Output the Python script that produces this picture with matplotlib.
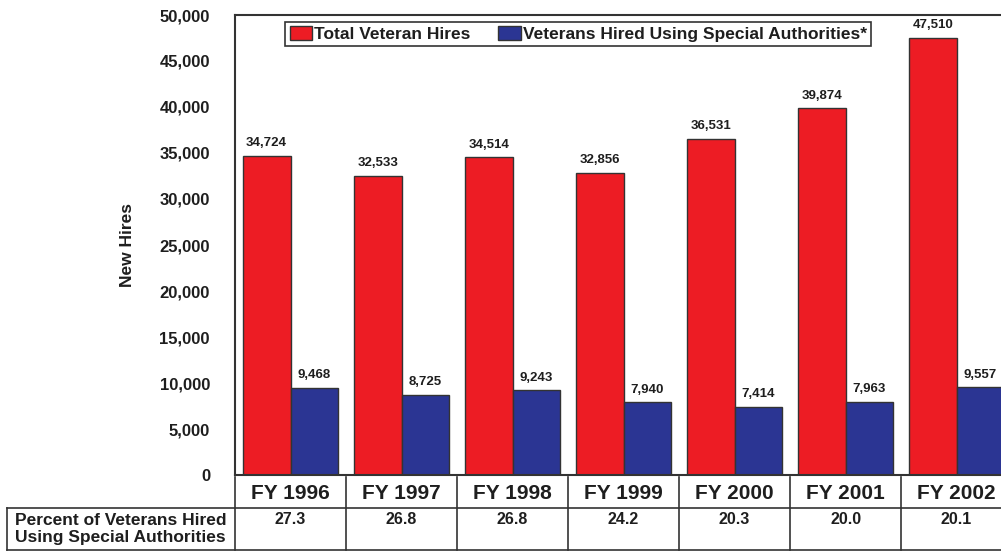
import matplotlib.pyplot as plt
import numpy as np

plt.rcParams['font.family'] = ['Liberation Sans', 'DejaVu Sans']
plt.rcParams['font.weight'] = 'bold'

# ---------- data ----------
years = ["FY 1996", "FY 1997", "FY 1998", "FY 1999", "FY 2000", "FY 2001", "FY 2002"]
total_hires = [34724, 32533, 34514, 32856, 36531, 39874, 47510]
special_hires = [9468, 8725, 9243, 7940, 7414, 7963, 9557]
percent_special = ["27.3", "26.8", "26.8", "24.2", "20.3", "20.0", "20.1"]

RED = "#ED1C24"
BLUE = "#2B3593"
LINE = "#333333"
TXT = "#1e1e1e"

W, H = 1001, 552
fig = plt.figure(figsize=(W / 100, H / 100), dpi=100)

left = 235 / W
bottom = (H - 475) / H
top = (H - 15) / H
ax = fig.add_axes([left, bottom, 1 - left, top - bottom])

x = np.arange(len(years))
bw = 0.43
ax.bar(x - bw / 2, total_hires, bw, color=RED, edgecolor=LINE, linewidth=1.0,
       label="Total Veteran Hires", zorder=2)
ax.bar(x + bw / 2, special_hires, bw, color=BLUE, edgecolor=LINE, linewidth=1.0,
       label="Veterans Hired Using Special Authorities*", zorder=2)

for xi, v in zip(x, total_hires):
    ax.text(xi - bw / 2, v + 700, f"{v:,}", ha="center", va="bottom",
            fontsize=9.5, fontweight="bold", color=TXT)
for xi, v in zip(x, special_hires):
    ax.text(xi + bw / 2, v + 700, f"{v:,}", ha="center", va="bottom",
            fontsize=9.5, fontweight="bold", color=TXT)

ax.set_xlim(-0.5, 6.4)
ax.set_ylim(0, 50000)
ax.set_yticks(range(0, 50001, 5000))
ax.set_yticklabels([f"{t:,}" for t in range(0, 50001, 5000)],
                   fontsize=12, fontweight="bold", color=TXT)
ax.tick_params(axis="y", length=0, pad=18)
ax.set_xticks([])
ax.spines["right"].set_visible(False)
for side in ["left", "top", "bottom"]:
    ax.spines[side].set_color(LINE)
    ax.spines[side].set_linewidth(1.5)

ax.set_ylabel("New Hires", fontsize=12.5, fontweight="bold", labelpad=18, color=TXT)

leg = ax.legend(loc="upper center", bbox_to_anchor=(0.448, 0.985), ncol=2,
                fancybox=False, edgecolor=LINE, framealpha=1, fontsize=12.5,
                handlelength=1.3, handleheight=0.8, handletextpad=0.1,
                columnspacing=1.6, borderpad=0.25, borderaxespad=0)
leg.get_frame().set_linewidth(1.2)
for t in leg.get_texts():
    t.set_fontweight("bold")
    t.set_color(TXT)

# ---------- table under the chart ----------
tab = fig.add_axes([left, 2 / H, 1 - left, 73 / H])
tab.set_xlim(-0.5, 6.4)
tab.set_ylim(0, 1)
tab.axis("off")

row_split = (550 - 508) / (550 - 477)
x_far = -0.5 - (235 - 7) / 111.0
lw = 1.2
for b in np.arange(len(years) + 1) - 0.5:
    tab.plot([b, b], [0, 1], color=LINE, lw=lw, clip_on=False)
tab.plot([x_far, 6.4], [row_split, row_split], color=LINE, lw=lw, clip_on=False)
tab.plot([x_far, 6.4], [0, 0], color=LINE, lw=lw, clip_on=False)
tab.plot([x_far, x_far], [0, row_split], color=LINE, lw=lw, clip_on=False)

for xi, label, pct in zip(x, years, percent_special):
    tab.text(xi, (row_split + 1) / 2 - 0.02, label, ha="center", va="center",
             fontsize=15, fontweight="bold", color=TXT, clip_on=False)
    tab.text(xi, row_split - 0.06, pct, ha="center", va="top",
             fontsize=11.5, fontweight="bold", color=TXT, clip_on=False)

tab.text(x_far + 0.07, row_split / 2, "Percent of Veterans Hired\nUsing Special Authorities",
         ha="left", va="center", fontsize=12.5, fontweight="bold", color=TXT,
         linespacing=1.1, clip_on=False)

fig.savefig("out.png", dpi=100)
